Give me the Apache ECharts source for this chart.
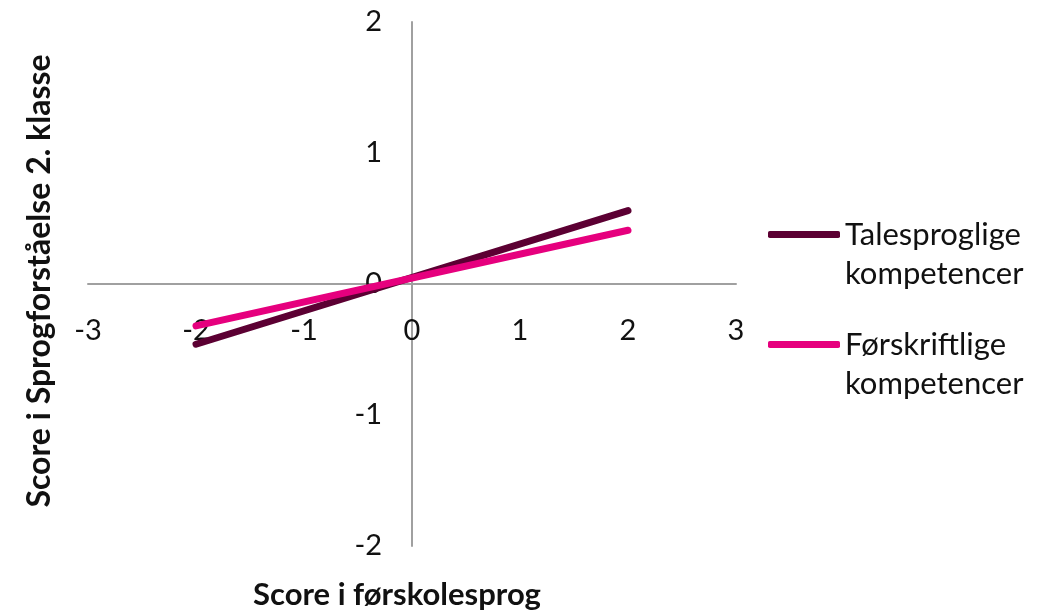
<!DOCTYPE html>
<html>
<head>
<meta charset="utf-8">
<script src="https://cdn.jsdelivr.net/npm/echarts@6/dist/echarts.min.js"></script>
<style>
html,body{margin:0;padding:0;background:#fff;}
#c{width:1050px;height:611px;}
</style>
</head>
<body>
<div id="c"></div>
<script>
var seriesNames = ['Talesproglige\nkompetencer', 'Førskriftlige\nkompetencer'];
var xValues = [-2, 2];
var talesproglige = [-0.46, 0.56];
var forskriftlige = [-0.32, 0.41];
var xTitle = 'Score i førskolesprog';
var yTitle = 'Score i Sprogforståelse 2. klasse';
var colors = ['#5c0033', '#e6007e'];

function pts(ys){ return xValues.map(function(x,i){ return [x, ys[i]]; }); }

var chart = echarts.init(document.getElementById('c'), null, {renderer:'canvas'});
var FONT = 'Lato';
var LH = 39;
chart.setOption({
  animation:false,
  color: colors,
  grid:{left:88, right:314, top:22, bottom:65, containLabel:false},
  xAxis:{
    type:'value', min:-3, max:3, interval:1, position:'bottom', offset:-262,
    axisLine:{onZero:false, lineStyle:{color:'#a0a0a0', width:2}},
    axisTick:{show:false},
    splitLine:{show:false},
    axisLabel:{color:'#111', fontFamily:FONT, fontSize:29, margin:32, showMinLabel:true, showMaxLabel:true}
  },
  yAxis:{
    type:'value', min:-2, max:2, interval:1, position:'left', offset:-324,
    axisLine:{show:true, onZero:false, lineStyle:{color:'#a0a0a0', width:2}},
    axisTick:{show:false},
    splitLine:{show:false},
    axisLabel:{color:'#111', fontFamily:FONT, fontSize:29, margin:30}
  },
  legend:{
    orient:'vertical', left:768, top:176, padding:0,
    icon:'roundRect', itemWidth:72, itemHeight:7, itemGap:-7,
    formatter:function(n){ return ' \n' + n; },
    textStyle:{fontFamily:FONT, fontSize:31, color:'#111', lineHeight:LH},
    data: seriesNames
  },
  graphic:[
    {type:'text', x:397, y:595, style:{text:xTitle, x:0, y:0, align:'center', verticalAlign:'middle', font:'bold 31px Lato', fill:'#111'}},
    {type:'text', rotation:Math.PI/2, x:40, y:281, style:{text:yTitle, x:0, y:0, align:'center', verticalAlign:'middle', font:'bold 32px Lato', fill:'#111'}}
  ],
  series:[
    {name:seriesNames[0], type:'line', data:pts(talesproglige), showSymbol:false, symbol:'none',
     lineStyle:{width:7, cap:'round', color:colors[0]}, itemStyle:{color:colors[0]}, z:2},
    {name:seriesNames[1], type:'line', data:pts(forskriftlige), showSymbol:false, symbol:'none',
     lineStyle:{width:7, cap:'round', color:colors[1]}, itemStyle:{color:colors[1]}, z:3}
  ]
});
</script>
</body>
</html>
